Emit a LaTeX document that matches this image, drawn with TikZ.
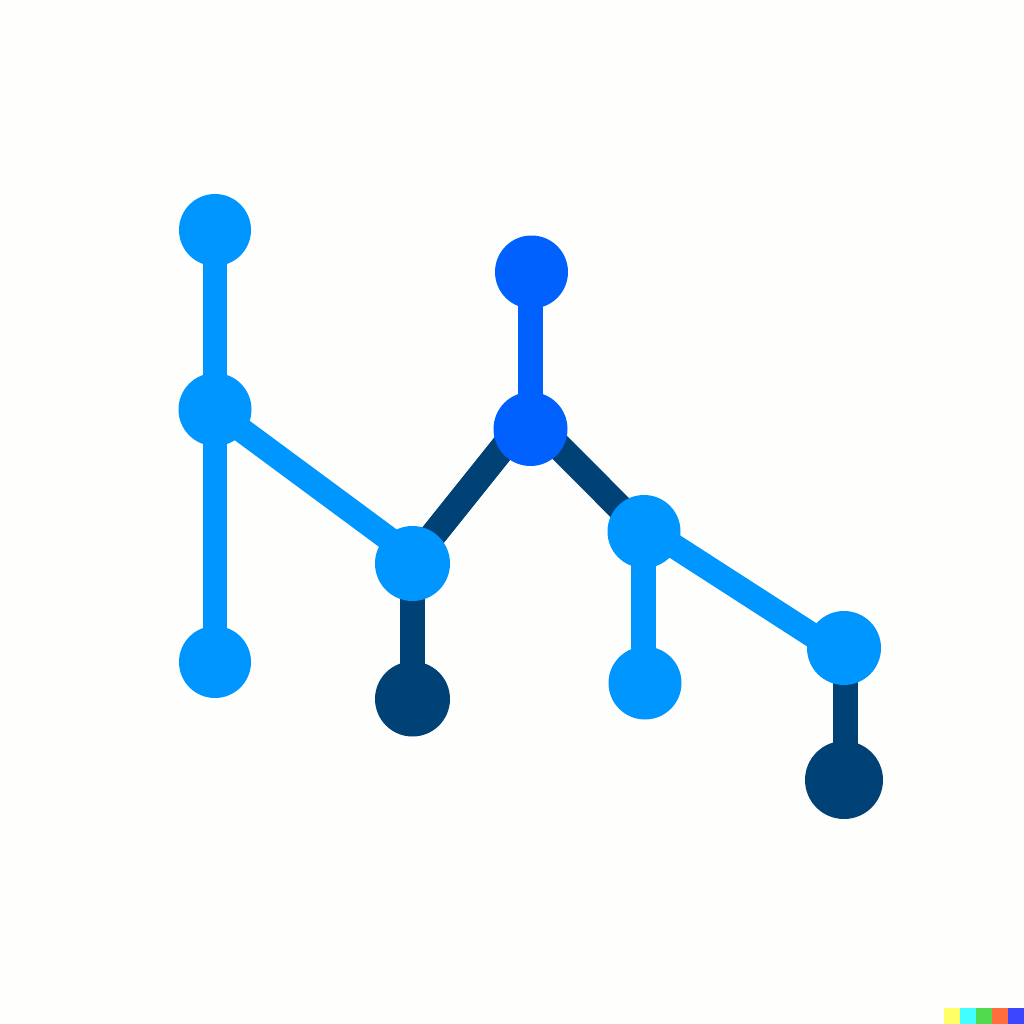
\documentclass[tikz,border=0pt]{standalone}
\definecolor{bgc}{HTML}{FEFEFD}
\definecolor{lb}{HTML}{0096FF}
\definecolor{mb}{HTML}{0061FF}
\definecolor{db}{HTML}{004275}
\definecolor{w1}{HTML}{FFFF66}
\definecolor{w2}{HTML}{42FFFF}
\definecolor{w3}{HTML}{51DA4C}
\definecolor{w4}{HTML}{FF6E3C}
\definecolor{w5}{HTML}{3C46FF}
\tikzset{
 x=1pt,y=-1pt,
 dot/.style={circle,inner sep=0pt,outer sep=0pt,minimum size=#1},
 dot/.default=72pt,
 lnode/.style={dot=72pt,fill=lb},
 mnode/.style={dot=72pt,fill=mb},
 dnode/.style={dot=75pt,fill=db},
 llink/.style={draw=lb,line width=24.5pt},
 mlink/.style={draw=mb,line width=25pt},
 dlink/.style={draw=db,line width=25pt},
 dslant/.style={draw=db,line width=26.5pt},
 swatch/.style={inner sep=0pt,outer sep=0pt,minimum width=16pt,minimum height=16pt}
}
\begin{document}
\begin{tikzpicture}
\useasboundingbox (0,0) rectangle (1024,1024);
\fill[bgc] (0,0) rectangle (1024,1024);
\coordinate (pa) at (215,230);
\coordinate (pb) at (215,409.5);
\coordinate (pc) at (215,662);
\coordinate (pd) at (412.5,563.5);
\coordinate (pe) at (412.5,699);
\coordinate (pf) at (531.5,272);
\coordinate (pg) at (530.5,429);
\coordinate (ph) at (644,531.5);
\coordinate (pi) at (645,683);
\coordinate (pj) at (844,648);
\coordinate (pk) at (844,780);
% connector ends as they sit in the picture (slightly off-centre inside the discs)
\coordinate (dgl) at (410,564);
\coordinate (dgt) at (518,429);
\coordinate (ght) at (541.6,429);
\coordinate (ghb) at (644,532);
\coordinate (bdt) at (215,410.4);
\coordinate (bdb) at (412,556);
\coordinate (hjt) at (644,526.7);
\coordinate (hjb) at (844,655.6);
\coordinate (hib) at (643.5,683);
\coordinate (hit) at (643.5,532);
\coordinate (jkt) at (845,648);
\coordinate (jkb) at (845,780);
\coordinate (fgt) at (530.5,272);
\draw[dslant] (dgl) -- (dgt);
\draw[dslant] (ght) -- (ghb);
\draw[dlink] (pd) -- (pe);
\draw[dlink] (jkt) -- (jkb);
\draw[llink] (pa) -- (pc);
\draw[llink] (bdt) -- (bdb);
\draw[llink] (hit) -- (hib);
\draw[llink] (hjt) -- (hjb);
\draw[mlink] (fgt) -- (pg);
\node[lnode] (a) at (pa) {};
\node[lnode,minimum size=73pt] (b) at (pb) {};
\node[lnode] (c) at (pc) {};
\node[lnode,minimum size=75pt] (d) at (pd) {};
\node[dnode] (e) at (pe) {};
\node[mnode,minimum size=73pt] (f) at (pf) {};
\node[mnode,minimum size=74pt] (g) at (pg) {};
\node[lnode,minimum size=73pt] (h) at (ph) {};
\node[lnode,minimum size=73pt] (i) at (pi) {};
\node[lnode,minimum size=74pt] (j) at (pj) {};
\node[dnode,minimum size=78pt] (k) at (pk) {};
\node[swatch,fill=w1] (s1) at (952,1016) {};
\node[swatch,fill=w2] (s2) at (968,1016) {};
\node[swatch,fill=w3] (s3) at (984,1016) {};
\node[swatch,fill=w4] (s4) at (1000,1016) {};
\node[swatch,fill=w5] (s5) at (1016,1016) {};
\end{tikzpicture}
\end{document}
